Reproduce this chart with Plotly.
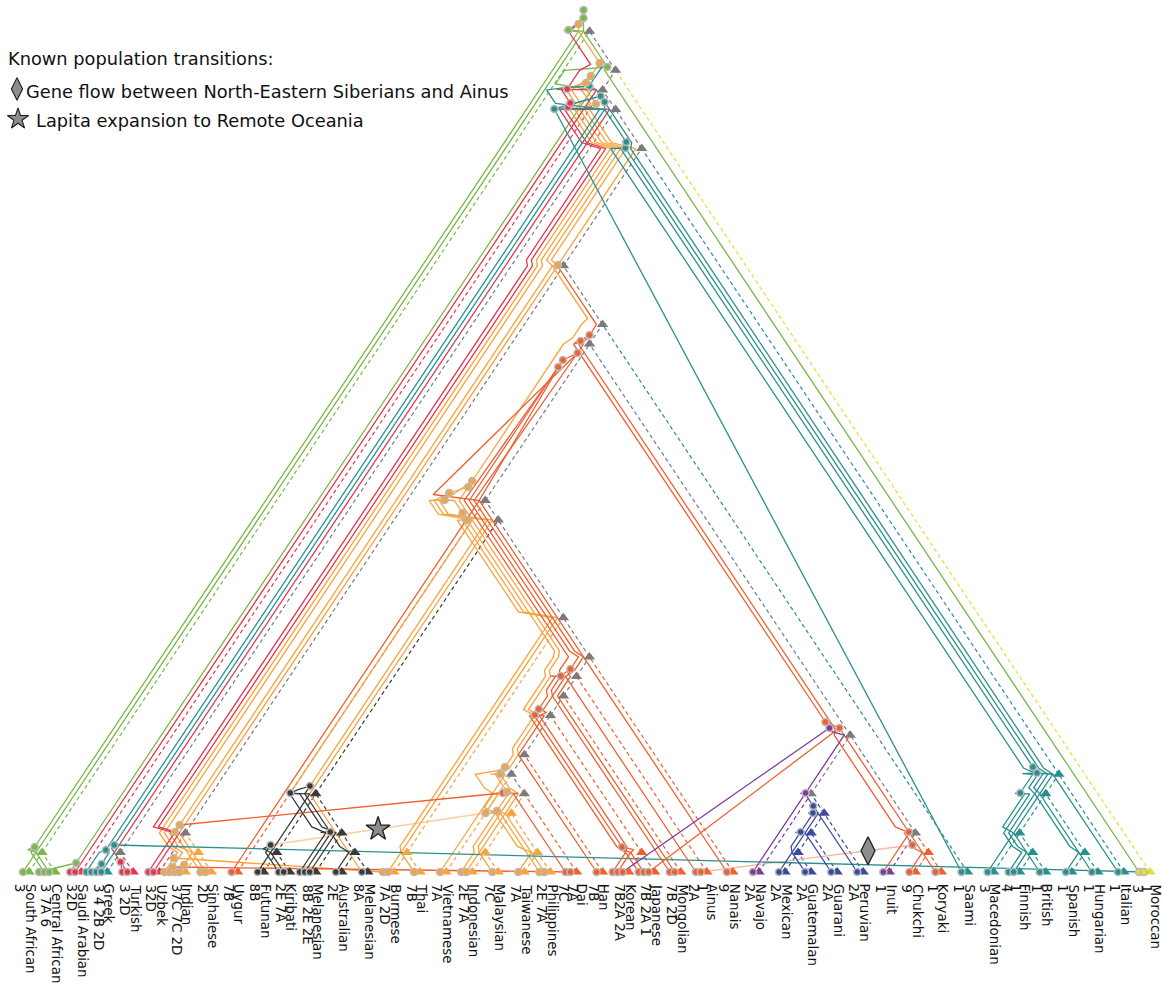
import plotly.graph_objects as go
from collections import defaultdict

# ---------------- populations, left to right along the baseline ----------------
pop_codes = ["SAF", "CAF", "SAU", "GRE", "TUR", "UZB", "IND", "SIN", "UYG", "FUT", "KIR",
             "MLA", "AUS", "MLB", "BUR", "THA", "VIE", "INO", "MAL", "TAI", "PHI", "DAI",
             "HAN", "KOR", "JAP", "MON", "AIN", "NAN", "NAV", "MEX", "GUA", "GUR", "PER",
             "INU", "CHU", "KRY", "SAA", "MAC", "FIN", "BRI", "SPA", "HUN", "ITA", "MOR"]
pop_names = ["South African", "Central African", "Saudi Arabian", "Greek", "Turkish", "Uzbek",
             "Indian", "Sinhalese", "Uygur", "Futunan", "Kiribati", "Melanesian", "Australian",
             "Melanesian", "Burmese", "Thai", "Vietnamese", "Indonesian", "Malaysian", "Taiwanese",
             "Philippines", "Dai", "Han", "Korean", "Japanese", "Mongolian", "Ainus", "Nanais",
             "Navajo", "Mexican", "Guatemalan", "Guarani", "Peruvian", "Inuit", "Chukchi", "Koryaki",
             "Saami", "Macedonian", "Finnish", "British", "Spanish", "Hungarian", "Italian", "Moroccan"]
# haplogroup notes printed under each name ("|" starts a new line)
pop_notes = ["3", "3 7A 6", "32D", "3 4 2B 2D", "3 2D", "32D", "37C 7C 2D", "2D", "7B", "8B",
             "2E 7A", "8B 2E 2E", "2E", "8A", "7A 2D", "7B", "7A", "2E 7A", "7C", "7A", "2E 7A",
             "7A|7C", "7B", "7B2A 2A", "7B 2A 1", "7B 2D", "1|2A", "9", "2A", "2A", "2A", "2A",
             "2A", "1", "9", "1", "1", "3", "1|4", "1", "1", "1", "1", "1|3"]
# sampled sequences per population
pop_samples = [1, 3, 2, 4, 2, 2, 4, 2, 1, 1, 2, 3, 1, 1, 2, 1, 1, 2, 1, 1, 2, 2,
               1, 3, 3, 2, 2, 1, 1, 1, 1, 1, 1, 1, 1, 1, 1, 1, 2, 1, 1, 1, 1, 2]
pop_groups = ["africa", "africa", "westasia", "europe", "westasia", "westasia", "orange", "orange",
              "neasia", "oceania", "oceania", "oceania", "oceania", "oceania", "orange", "orange",
              "orange", "orange", "orange", "orange", "orange", "neasia", "neasia", "neasia",
              "neasia", "neasia", "neasia", "neasia", "navajo", "america", "america", "america",
              "america", "navajo", "neasia", "neasia", "europe", "europe", "europe", "europe",
              "europe", "europe", "europe", "maghreb"]

group_colors = {"africa": "#79b84a", "westasia": "#e8364f", "europe": "#27918f",
                "orange": "#f8a33c", "neasia": "#f15f2f", "oceania": "#3a3a3a",
                "navajo": "#7e3b97", "america": "#3c4a9d", "maghreb": "#dfe03a",
                "lapita": "#fbcf9c", "flow": "#f8b7a2"}
MIXED = "#7b7b7b"

# population tree
pop_newick = ("((SAF,CAF),((SAU,((GRE,TUR),(((UZB,(IND,SIN)),(((UYG,(((FUT,KIR),(MLA,(AUS,MLB))),"
              "((BUR,THA),((((((VIE,(((INO,MAL),(TAI,PHI)),DAI)),HAN),(KOR,JAP)),MON),AIN),NAN)))),"
              "((NAV,(((MEX,GUA),GUR),PER)),(INU,(CHU,KRY)))),SAA)),"
              "(((MAC,(FIN,BRI)),(SPA,HUN)),ITA)))),MOR))")

# ---------------- coalescence events of the sequence genealogy ----------------
coal_names = ["a1", "a2", "g_rg", "t1", "t_or", "t2", "t3",
              "gr1", "gr2", "t_sa", "e_gm", "e1", "e2", "e3", "f1", "f2", "f3", "f4", "f5",
              "d1", "d2", "d3", "d4",
              "i0", "i1", "i2", "i3", "i4",
              "o1", "LAP", "s0", "ld", "s1", "s2", "s3",
              "o2", "o3", "o4",
              "u1", "u2", "u3", "u4", "u5", "u6",
              "r1", "r2", "r3", "r4", "rk", "rE1", "rE2", "rE3",
              "n1", "n2", "n3", "n4", "pA", "n6", "n7", "n8", "n9", "R_top", "R2",
              "v1", "w1", "w2", "w3", "w4"]
coal_branch = ["SAU", "SAF-CAF", "SAU-MOR", "SAF-MOR", "SAF-MOR", "SAF-MOR", "SAF-MOR",
               "GRE", "GRE-TUR", "GRE-ITA", "GRE-TUR", "MAC-HUN", "MAC-ITA", "MAC-ITA", "UZB-ITA",
               "UZB-ITA", "GRE-ITA", "GRE-ITA", "SAU-ITA",
               "TUR", "GRE-ITA", "GRE-ITA", "SAU-ITA",
               "IND", "IND", "IND", "UZB-SIN", "UZB-SIN",
               "FUT-KIR", "INO-PHI", "INO-PHI", "INO-DAI", "INO-DAI", "VIE-DAI", "VIE-DAI",
               "MLA-MLB", "FUT-MLB", "FUT-MLB",
               "FUT-NAN", "FUT-NAN", "UYG-NAN", "UYG-NAN", "UYG-NAN", "UYG-NAN",
               "VIE-JAP", "VIE-JAP", "VIE-AIN", "VIE-AIN", "KOR-JAP", "UYG-NAN", "UYG-NAN", "UYG-NAN",
               "MEX-GUR", "MEX-PER", "MEX-PER", "NAV-PER", "NAV-KRY", "CHU-KRY", "INU-KRY", "NAV-KRY",
               "NAV-KRY", "UYG-KRY", "UYG-KRY",
               "UZB-SAA", "GRE-ITA", "SAU-ITA", "SAU-ITA", "SAU-MOR"]
coal_time = [9, 25, 805, 842, 848, 854, 862,
             8, 22, 763, 27, 79, 99, 105, 724, 730, 770, 776, 786,
             10, 765, 769, 783,
             5, 7, 14, 40, 47,
             27, 59, 61, 79, 80, 98, 105,
             40, 79, 86,
             352, 359, 372, 379, 385, 391,
             157, 163, 196, 203, 25, 505, 512, 519,
             40, 59, 66, 79, 144, 27, 40, 144, 150, 531, 537,
             607, 768, 789, 796, 809]
coal_group = ["africa", "africa", "africa", "africa", "orange", "africa", "africa",
              "europe", "europe", "europe", "europe", "europe", "europe", "europe", "europe",
              "europe", "europe", "europe", "europe",
              "westasia", "westasia", "westasia", "westasia",
              "orange", "orange", "orange", "orange", "orange",
              "oceania", "orange", "orange", "neasia", "orange", "orange", "orange",
              "oceania", "oceania", "oceania",
              "orange", "orange", "orange", "orange", "orange", "orange",
              "neasia", "neasia", "neasia", "neasia", "neasia", "neasia", "neasia", "neasia",
              "america", "america", "america", "navajo", "navajo", "neasia", "neasia", "neasia",
              "neasia", "neasia", "neasia",
              "orange", "orange", "orange", "orange", "orange"]
coal_children = ["CAF0 SAU0", "SAF0 CAF1", "a1 MOR0", "a2 CAF2", "w4 d4", "t1 g_rg", "t2 t_or",
                 "GRE1 GRE2", "gr1 GRE0", "gr2 SAA0", "GRE3 MOR1", "MAC0 FIN0", "e1 ITA0", "e2 BRI0",
                 "e3 FIN1", "f1 SPA0", "f2 HUN0", "f3 t_sa", "f4 e_gm",
                 "TUR0 TUR1", "d1 UZB0", "d2 UZB1", "d3 SAU1",
                 "IND1 DAI1", "IND2 IND3", "IND0 BUR0", "i1 SIN0", "i3 ld",
                 "FUT0 KIR0", "o1 INO1", "MAL0 TAI0", "LAP DAI0", "s0 PHI0", "s1 VIE0", "s2 INO0",
                 "MLA1 AUS0", "KIR1 MLA2", "o2 MLA0",
                 "s3 BUR1", "u1 THA0", "u2 o3", "u3 o4", "u4 PHI1", "u5 MLB0",
                 "HAN0 KOR0", "r1 JAP0", "r2 MON0", "r3 MON1", "KOR1 JAP1", "r4 rk", "rE1 NAN0",
                 "rE2 AIN0 UYG0",
                 "MEX0 GUA0", "n1 GUR0", "n2 PER0", "n3 NAV0", "n4 KOR2", "CHU0 AIN1", "n6 KRY0",
                 "n7 JAP2", "pA n8", "rE3 n9", "R_top INU0",
                 "u6 R2", "v1 i4", "w1 i2 SIN1", "w2 i0", "w3 f5"]

# lineages drawn straight across the population tree, with their colour group
cross_links = {"CAF0": "africa", "MOR1": "europe", "SAA0": "europe", "o1": "lapita",
               "ld": "neasia", "KOR2": "navajo", "JAP2": "neasia", "AIN1": "flow",
               "DAI1": "neasia", "BUR0": "orange"}
# lineages coloured differently from the node they leave
edge_group = {"SAU0": "africa", "MOR0": "africa", "o3": "orange", "o4": "orange", "MLB0": "orange",
              "INU0": "neasia"}

# ---------------- layout constants ----------------
LEAF0, LEAF_STEP = 29.0, 26.07     # baseline position of the first population, spacing
H_PER_SPAN = 0.75                  # cladogram height per unit of covered span
DOT_GAP, LANE = 6.0, 5.0           # first sequence offset, spacing between parallel lineages


def parse_newick(s):
    pos = 0

    def node():
        nonlocal pos
        if s[pos] == "(":
            pos += 1
            kids = [node()]
            while s[pos] == ",":
                pos += 1
                kids.append(node())
            pos += 1
            return kids
        start = pos
        while pos < len(s) and s[pos] not in ",()":
            pos += 1
        return s[start:pos]
    return node()


leaf_x = {c: LEAF0 + LEAF_STEP * i for i, c in enumerate(pop_codes)}
pop_color = {c: group_colors[g] for c, g in zip(pop_codes, pop_groups)}
parent, nx, nh, leaves_of = {}, {}, {}, {}


def build(t):
    if isinstance(t, str):
        nx[t], nh[t], leaves_of[t] = leaf_x[t], 0.0, [t]
        return t
    kids = [build(k) for k in t]
    lv = [l for k in kids for l in leaves_of[k]]
    name = f"{lv[0]}-{lv[-1]}"
    L, R = leaf_x[lv[0]], leaf_x[lv[-1]]
    nx[name], nh[name], leaves_of[name] = (L + R) / 2, (R - L) * H_PER_SPAN, lv
    for k in kids:
        parent[k] = name
    return name


root = build(parse_newick(pop_newick))


def node_color(n):
    cols = {pop_color[l] for l in leaves_of[n]}
    return cols.pop() if len(cols) == 1 else MIXED


def branch_x(b, h):
    p = parent.get(b)
    if p is None:
        return nx[b]
    return nx[b] + (nx[p] - nx[b]) * (h - nh[b]) / (nh[p] - nh[b])


# ---------------- genealogy ----------------
gbranch, gtime, gcolor, gkids, dot_x = {}, {}, {}, {}, {}
for code, n, grp in zip(pop_codes, pop_samples, pop_groups):
    for i in range(n):
        g = f"{code}{i}"
        gbranch[g], gtime[g], gkids[g] = code, 0.0, []
        gcolor[g] = group_colors[grp]
        dot_x[g] = leaf_x[code] - DOT_GAP - LANE * (n - 1 - i)
for name, b, t, grp, ch in zip(coal_names, coal_branch, coal_time, coal_group, coal_children):
    gbranch[name], gtime[name], gcolor[name] = b, float(t), group_colors[grp]
    gkids[name] = ch.split()
gparent = {c: p for p in coal_names for c in gkids[p]}


def climb(b, target):
    path, n = [], b
    while n != target:
        n = parent.get(n)
        if n is None:
            return None
        path.append(n)
    return path


paths, direct = {}, {}
for c, p in gparent.items():
    pth = None if c in cross_links else climb(gbranch[c], gbranch[p])
    direct[c] = pth is None
    paths[c] = pth or []

key_cache = {}


def sort_key(g):
    if g in key_cache:
        return key_cache[g]
    if g in dot_x:
        v = dot_x[g]
    else:
        ks = [sort_key(k) for k in gkids[g] if not direct[k]] or [sort_key(k) for k in gkids[g]]
        v = sum(ks) / len(ks)
    key_cache[g] = v
    return v


# pack parallel lineages into lanes, branch by branch (only where they overlap in height)
spans = defaultdict(list)
for c, p in gparent.items():
    chain = [gbranch[c]] + paths[c]
    for j, b in enumerate(chain):
        lo = gtime[c] if j == 0 else nh[b]
        if direct[c]:
            hi = lo + 0.5
        elif b == gbranch[p]:
            hi = gtime[p]
        else:
            hi = nh[parent[b]]
        spans[b].append((c, lo, hi))
offset = {}
for b, items in spans.items():
    items.sort(key=lambda it: -sort_key(it[0]))
    placed = []
    for c, lo, hi in items:
        over = [l2 for lo2, hi2, l2 in placed if lo < hi2 and lo2 < hi]
        lane = max(over) + 1 if over else 0
        placed.append((lo, hi, lane))
        offset[(c, b)] = -DOT_GAP - LANE * lane


def gxy(g):
    if g in dot_x:
        return dot_x[g], 0.0
    b = gbranch[g]
    return branch_x(b, gtime[g]) + offset.get((g, b), -DOT_GAP), gtime[g]


edge_lines = defaultdict(lambda: ([], []))
edge_pts = {}
for c, p in gparent.items():
    pts = [gxy(c)]
    if not direct[c]:
        prev = gbranch[c]
        for n in paths[c]:
            lo, up = offset[(c, prev)], offset[(c, n)]
            pts.append((nx[n] + lo, nh[n]))
            if up != lo:
                top = gtime[p] if n == gbranch[p] else nh[parent[n]]
                hh = nh[n] + min(6.0, (top - nh[n]) / 2)
                pts.append((branch_x(n, hh) + up, hh))
            prev = n
    pts.append(gxy(p))
    edge_pts[c] = pts
    if c in cross_links:
        col = group_colors[cross_links[c]]
    elif c in edge_group:
        col = group_colors[edge_group[c]]
    else:
        col = gcolor[c]
    xs, ys = edge_lines[col]
    xs += [q[0] for q in pts] + [None]
    ys += [q[1] for q in pts] + [None]

fig = go.Figure()

# population tree edges (dashed)
dash_lines = defaultdict(lambda: ([], []))
for n, p in parent.items():
    xs, ys = dash_lines[node_color(n)]
    xs += [nx[n], nx[p], None]
    ys += [nh[n], nh[p], None]
for col, (xs, ys) in dash_lines.items():
    fig.add_trace(go.Scatter(x=xs, y=ys, mode="lines", hoverinfo="skip",
                             line=dict(color=col, width=1.2, dash="4px,3px")))

# light transition lines first, then lineages
light = {group_colors["lapita"], group_colors["flow"]}
for col in sorted(edge_lines, key=lambda c: c not in light):
    xs, ys = edge_lines[col]
    fig.add_trace(go.Scatter(x=xs, y=ys, mode="lines", hoverinfo="skip",
                             line=dict(color=col, width=1.3)))


def along(c, frac):
    (x0, y0), (x1, y1) = edge_pts[c][0], edge_pts[c][-1]
    return x0 + (x1 - x0) * frac, y0 + (y1 - y0) * frac


# known population transitions on the plot
dx, dy = along("AIN1", 0.79)
sx, sy = along("o1", 0.5)
fig.add_trace(go.Scatter(x=[dx], y=[dy], mode="markers", hoverinfo="skip",
                         marker=dict(symbol="diamond-tall", size=20, color="#8d8d8d",
                                     line=dict(color="#1e1e1e", width=1.3))))
fig.add_trace(go.Scatter(x=[sx], y=[sy], mode="markers", hoverinfo="skip",
                         marker=dict(symbol="star", size=18, color="#8d8d8d",
                                     line=dict(color="#1e1e1e", width=1.3))))

# population nodes (triangles)
tri = list(nx)
fig.add_trace(go.Scatter(x=[nx[n] for n in tri], y=[nh[n] for n in tri], mode="markers",
                         hoverinfo="skip",
                         marker=dict(symbol="triangle-up", size=10,
                                     color=[node_color(n) for n in tri], line=dict(width=0))))

# sequences and coalescences (dots)
gnodes = list(dot_x) + coal_names
gx = [gxy(g)[0] for g in gnodes]
gy = [gxy(g)[1] for g in gnodes]
gc = [gcolor[g] for g in gnodes]
fig.add_trace(go.Scatter(x=gx, y=gy, mode="markers", hoverinfo="skip",
                         marker=dict(symbol="circle", size=7, color=gc,
                                     line=dict(color="#b9b9b9", width=1.6))))

# legend for the marked transitions
fig.add_trace(go.Scatter(x=[17], y=[783], mode="markers", hoverinfo="skip",
                         marker=dict(symbol="diamond-tall", size=16, color="#8d8d8d",
                                     line=dict(color="#1e1e1e", width=1.1))))
fig.add_trace(go.Scatter(x=[18], y=[753], mode="markers", hoverinfo="skip",
                         marker=dict(symbol="star", size=16, color="#8d8d8d",
                                     line=dict(color="#1e1e1e", width=1.1))))

ann = []
FONT = "DejaVu Sans"
ann.append(dict(x=6, y=814, text="Known population transitions:", xanchor="left", yanchor="middle"))
ann.append(dict(x=24, y=781, text="Gene flow between North-Eastern Siberians and Ainus",
                xanchor="left", yanchor="middle"))
ann.append(dict(x=34, y=752, text="Lapita expansion to Remote Oceania", xanchor="left",
                yanchor="middle"))
for a in ann:
    a.update(showarrow=False, xref="x", yref="y", font=dict(family=FONT, size=17.8, color="#111"))

# rotated name blocks under each population: name first, notes to its left
PLOT_H = 880.0
for code, name, note in zip(pop_codes, pop_names, pop_notes):
    lines = [name] + note.split("|")
    n = len(lines)
    step = 10.5 if n == 2 else 9.0
    centre = leaf_x[code] - 4.0
    for k, txt in enumerate(lines):
        ann.append(dict(x=centre + step * ((n - 1) / 2 - k), y=-2 / PLOT_H, text=txt,
                        textangle=90, xanchor="center", yanchor="top", showarrow=False,
                        xref="x", yref="paper",
                        font=dict(family=FONT, size=13.4, color="#111")))

fig.update_layout(width=1162, height=984, margin=dict(l=0, r=0, t=0, b=104),
                  plot_bgcolor="white", paper_bgcolor="white", showlegend=False,
                  xaxis=dict(range=[0, 1162], visible=False, fixedrange=True),
                  yaxis=dict(range=[-8, 872], visible=False, fixedrange=True),
                  annotations=ann)
fig.write_html("out.html")
